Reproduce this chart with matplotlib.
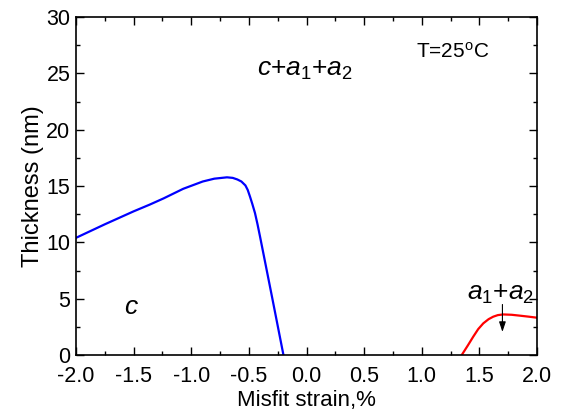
import matplotlib
matplotlib.use("Agg")
import matplotlib.pyplot as plt
from matplotlib.ticker import MultipleLocator

plt.rcParams["font.family"] = ["Liberation Sans", "DejaVu Sans"]
plt.rcParams["mathtext.fontset"] = "custom"
plt.rcParams["mathtext.rm"] = "Liberation Sans"
plt.rcParams["mathtext.it"] = "Liberation Sans:italic"

# c / c+a1+a2 boundary (blue)
blue_x = [-2.0, -1.75, -1.5, -1.36, -1.24, -1.07, -0.9, -0.8, -0.69, -0.64, -0.6,
          -0.565, -0.53, -0.51, -0.49, -0.47, -0.447, -0.425, -0.403, -0.3, -0.2]
blue_y = [10.4, 11.6, 12.75, 13.35, 13.9, 14.75, 15.4, 15.65, 15.77, 15.72, 15.58,
          15.4, 15.05, 14.65, 14.05, 13.4, 12.6, 11.6, 10.5, 5.2, 0.0]

# a1+a2 boundary (red)
red_x = [1.347, 1.40, 1.447, 1.49, 1.534, 1.58, 1.62, 1.66, 1.707, 1.78, 1.853, 1.93, 2.0]
red_y = [0.0, 0.85, 1.63, 2.3, 2.81, 3.18, 3.4, 3.54, 3.6, 3.57, 3.49, 3.4, 3.31]

fig = plt.figure(figsize=(5.62, 4.12), dpi=100)
ax = fig.add_axes([76 / 562, 1 - 355 / 412, (537 - 76) / 562, (355 - 17) / 412])

ax.plot(blue_x, blue_y, color="#0000ff", lw=1.6)
ax.plot(red_x, red_y, color="#ff0000", lw=1.6)

ax.set_xlim(-2.0, 2.0)
ax.set_ylim(0, 30)
ax.xaxis.set_major_locator(MultipleLocator(0.5))
ax.xaxis.set_minor_locator(MultipleLocator(0.25))
ax.yaxis.set_major_locator(MultipleLocator(5))
ax.yaxis.set_minor_locator(MultipleLocator(2.5))
ax.xaxis.set_major_formatter(plt.FuncFormatter(lambda v, p: f"{v:.1f}"))
ax.tick_params(which="both", direction="in", top=True, right=True, labelsize=15.5)
ax.tick_params(axis="x", pad=8)
ax.tick_params(axis="y", pad=4)
ax.tick_params(which="major", length=6, width=1)
ax.tick_params(which="minor", length=3, width=1)
for s in ax.spines.values():
    s.set_linewidth(1.2)

ax.set_xlabel("Misfit strain,%", fontsize=16, labelpad=2)
ax.set_ylabel("Thickness (nm)", fontsize=17, labelpad=2)

ax.text(0.95, 26.9, "T=25$^{\\rm o}$C", fontsize=15, va="center", ha="left")
ax.text(-0.43, 25.3, "$c$+$a_1$+$a_2$", fontsize=19, va="center", ha="left")
ax.text(-1.52, 4.3, "$c$", fontsize=19, va="center", ha="center")
ax.text(1.39, 5.4, "$a_1$+$a_2$", fontsize=19, va="center", ha="left")
ax.annotate("", xy=(1.70, 1.8), xytext=(1.70, 4.73),
            arrowprops=dict(arrowstyle="-|>,head_length=0.6,head_width=0.2",
                            color="black", lw=0.8, mutation_scale=10))

fig.savefig("out.png", dpi=100)
